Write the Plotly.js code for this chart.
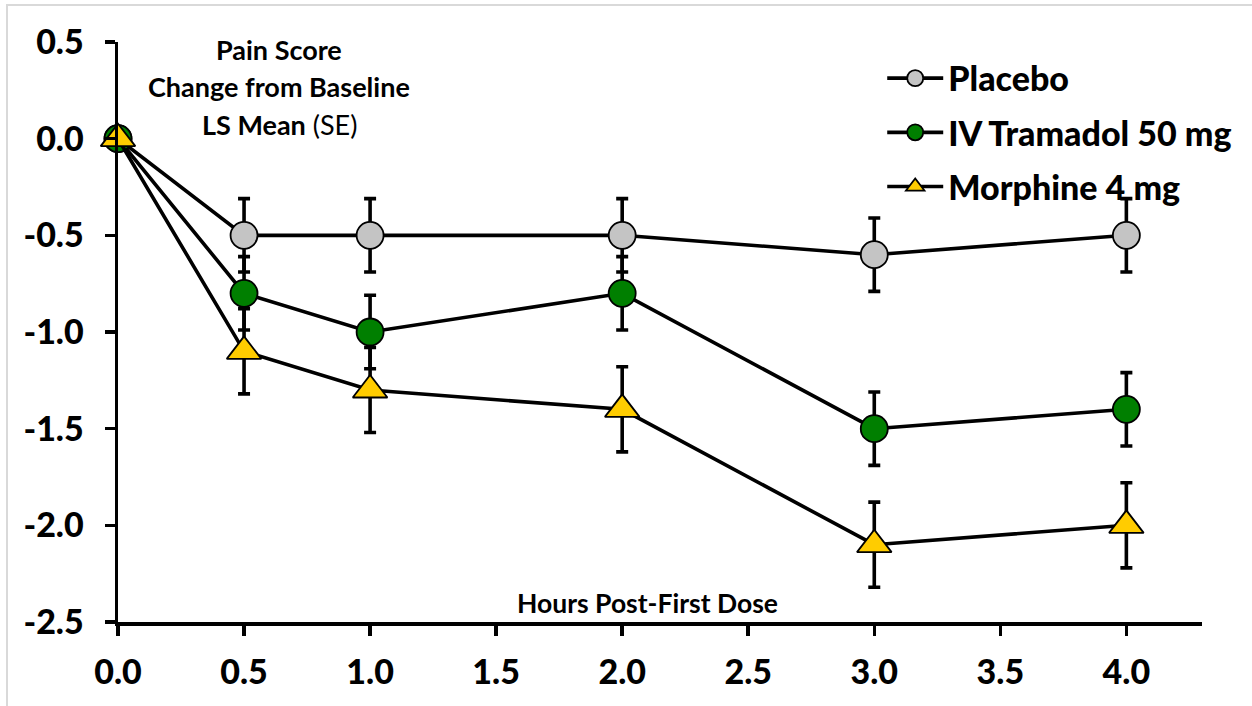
<!DOCTYPE html>
<html>
<head>
<meta charset="utf-8">
<script src="https://cdn.plot.ly/plotly-3.0.1.min.js"></script>
<style>
  html, body { margin: 0; padding: 0; background: #ffffff; overflow: hidden; }
  #chart { position: absolute; left: 0; top: 0; width: 1252px; height: 706px; }
  #frame { position: absolute; left: 6px; top: 4px; width: 1400px; height: 900px;
           border-top: 2px solid #D9D9D9; border-left: 2px solid #D9D9D9; pointer-events: none; }
</style>
</head>
<body>
<div id="chart"></div>
<div id="frame"></div>
<script>
// Hours after the first dose
const hours = [0, 0.5, 1.0, 2.0, 3.0, 4.0];

// LS mean change from baseline in pain score, with standard errors
const placeboMean   = [0, -0.5, -0.5, -0.5, -0.6, -0.5];
const placeboSE     = [0, 0.19, 0.19, 0.19, 0.19, 0.19];
const tramadolMean  = [0, -0.8, -1.0, -0.8, -1.5, -1.4];
const tramadolSE    = [0, 0.19, 0.19, 0.19, 0.19, 0.19];
const morphineMean  = [0, -1.1, -1.3, -1.4, -2.1, -2.0];
const morphineSE    = [0, 0.22, 0.22, 0.22, 0.22, 0.22];

const seriesNames = ['Placebo', 'IV Tramadol 50 mg', 'Morphine 4 mg'];

// Axis ticks
const xTickVals = [0, 0.5, 1.0, 1.5, 2.0, 2.5, 3.0, 3.5, 4.0];
const xTickText = ['0.0', '0.5', '1.0', '1.5', '2.0', '2.5', '3.0', '3.5', '4.0'];
const yTickVals = [0.5, 0, -0.5, -1.0, -1.5, -2.0, -2.5];
const yTickText = ['0.5', '0.0', '-0.5', '-1.0', '-1.5', '-2.0', '-2.5'];

const FONT = 'Lato, "Open Sans", sans-serif';
const HEAVY = 900;

function series(name, y, se, symbol, color, size, group) {
  return {
    type: 'scatter',
    mode: 'lines+markers',
    name: name,
    legendgroup: group,
    x: hours,
    y: y,
    cliponaxis: false,
    line: { color: '#000000', width: 3.6 },
    marker: { symbol: symbol, size: size, color: color, line: { color: '#000000', width: 1.8 } },
    error_y: { type: 'data', array: se, visible: true, color: '#000000', thickness: 3.6, width: 6 },
    hoverinfo: 'x+y'
  };
}

const data = [
  series(seriesNames[0], placeboMean, placeboSE, 'circle', '#C4C4C4', 27, 'a'),
  series(seriesNames[1], tramadolMean, tramadolSE, 'circle', '#007F00', 27, 'b'),
  series(seriesNames[2], morphineMean, morphineSE, 'triangle-up', '#FFCC00', 30, 'c')
];

const tickFont = { family: FONT, size: 34, weight: HEAVY, color: '#000000' };
const noteFont = { family: FONT, size: 27, weight: 400, color: '#000000' };

const layout = {
  width: 1252,
  height: 706,
  margin: { l: 118, r: 50, t: 42, b: 84 },
  paper_bgcolor: '#ffffff',
  plot_bgcolor: '#ffffff',
  font: { family: FONT, color: '#000000' },
  showlegend: true,
  legend: {
    x: 0.705, xanchor: 'left',
    y: 0.987, yanchor: 'top',
    font: { family: FONT, size: 34, weight: HEAVY, color: '#000000' },
    itemwidth: 56,
    tracegroupgap: 7,
    bgcolor: 'rgba(0,0,0,0)'
  },
  xaxis: {
    range: [0, 4.3],
    tickmode: 'array', tickvals: xTickVals, ticktext: xTickText,
    showline: true, linecolor: '#000000', linewidth: 3.5,
    ticks: 'outside', ticklen: 10, tickwidth: 3.5, tickcolor: '#000000',
    ticklabelstandoff: 8,
    tickfont: tickFont,
    showgrid: false, zeroline: false, fixedrange: true
  },
  yaxis: {
    range: [-2.5, 0.5],
    tickmode: 'array', tickvals: yTickVals, ticktext: yTickText,
    showline: true, linecolor: '#000000', linewidth: 3.5,
    ticks: 'outside', ticklen: 10, tickwidth: 3.5, tickcolor: '#000000',
    ticklabelstandoff: 14,
    tickfont: tickFont,
    showgrid: false, zeroline: false, fixedrange: true
  },
  annotations: [
    { text: '<b>Pain Score</b>', x: 0.64, y: 0.5, xref: 'x', yref: 'y', yshift: -7,
      showarrow: false, xanchor: 'center', yanchor: 'middle', font: noteFont },
    { text: '<b>Change from Baseline</b>', x: 0.64, y: 0.5, xref: 'x', yref: 'y', yshift: -44,
      showarrow: false, xanchor: 'center', yanchor: 'middle', font: noteFont },
    { text: '<b>LS Mean</b> (SE)', x: 0.64, y: 0.5, xref: 'x', yref: 'y', yshift: -82,
      showarrow: false, xanchor: 'center', yanchor: 'middle', font: noteFont },
    { text: '<b>Hours Post-First Dose</b>', x: 2.1, y: -2.5, xref: 'x', yref: 'y', yshift: 19,
      showarrow: false, xanchor: 'center', yanchor: 'middle', font: { family: FONT, size: 26.5, color: '#000000' } }
  ]
};

Plotly.newPlot('chart', data, layout, { displayModeBar: false, staticPlot: true });
</script>
</body>
</html>
